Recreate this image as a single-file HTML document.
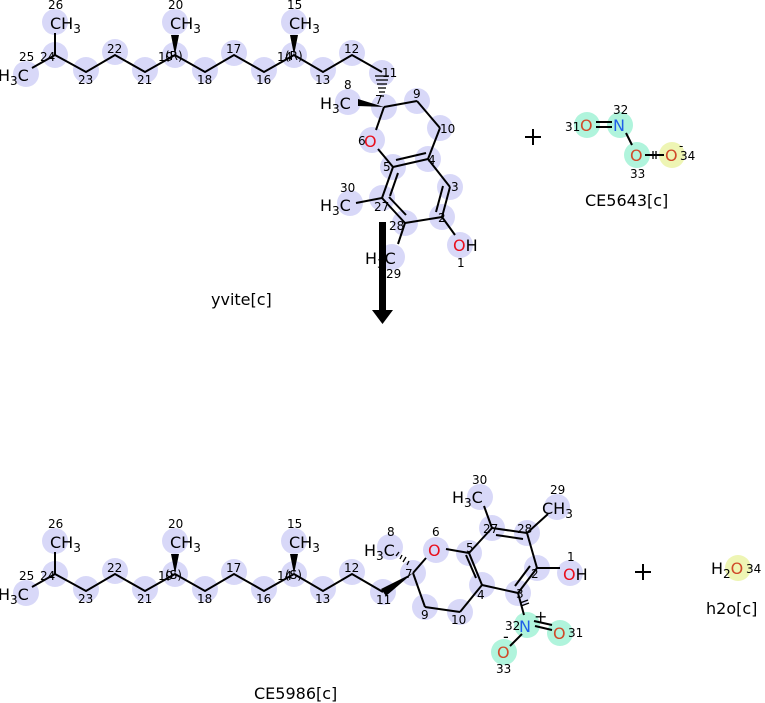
<!DOCTYPE html>
<html><head><meta charset="utf-8"><style>
html,body{margin:0;padding:0;background:#fff;width:765px;height:703px;overflow:hidden}
svg{display:block}
text{font-family:"DejaVu Sans","Liberation Sans",sans-serif}
.n{font-size:12px;fill:#000}
.a{font-size:16px;fill:#000}
.o{fill:#e8101e}
.on{fill:#d04a2a}
.nb{fill:#2060e8}
</style></head><body>
<svg width="765" height="703" viewBox="0 0 765 703" xmlns="http://www.w3.org/2000/svg">
<g fill="#d8d8f8">
<circle cx="55" cy="22" r="13"/><circle cx="55" cy="55" r="13"/><circle cx="26" cy="74" r="13"/>
<circle cx="86" cy="70" r="13"/><circle cx="115" cy="52" r="13"/><circle cx="145" cy="70" r="13"/>
<circle cx="175" cy="55" r="13"/><circle cx="175" cy="22" r="13"/><circle cx="205" cy="70" r="13"/>
<circle cx="234" cy="53" r="13"/><circle cx="264" cy="70" r="13"/><circle cx="294" cy="55" r="13"/>
<circle cx="294" cy="22" r="13"/><circle cx="323" cy="70" r="13"/><circle cx="352" cy="53" r="13"/>
<circle cx="382" cy="73" r="13"/><circle cx="384" cy="107" r="13"/><circle cx="348" cy="102" r="13"/>
<circle cx="417" cy="101" r="13"/><circle cx="440" cy="128" r="13"/><circle cx="372" cy="140" r="13"/>
<circle cx="393" cy="167" r="13"/><circle cx="428" cy="159" r="13"/><circle cx="450" cy="187" r="13"/>
<circle cx="442" cy="217" r="13"/><circle cx="460" cy="245" r="13"/><circle cx="405" cy="223" r="13"/>
<circle cx="382" cy="198" r="13"/><circle cx="350" cy="203" r="13"/><circle cx="392" cy="257" r="13"/>
<circle cx="55" cy="541" r="13"/><circle cx="55" cy="574" r="13"/><circle cx="26" cy="593" r="13"/>
<circle cx="86" cy="589" r="13"/><circle cx="115" cy="571" r="13"/><circle cx="145" cy="589" r="13"/>
<circle cx="175" cy="574" r="13"/><circle cx="175" cy="541" r="13"/><circle cx="205" cy="589" r="13"/>
<circle cx="234" cy="572" r="13"/><circle cx="264" cy="589" r="13"/><circle cx="294" cy="574" r="13"/>
<circle cx="294" cy="541" r="13"/><circle cx="323" cy="589" r="13"/><circle cx="352" cy="572" r="13"/>
<circle cx="383" cy="592" r="13"/><circle cx="413" cy="573" r="13"/><circle cx="390" cy="547" r="13"/>
<circle cx="436" cy="550" r="13"/><circle cx="469" cy="553" r="13"/><circle cx="492" cy="528" r="13"/>
<circle cx="480" cy="497" r="13"/><circle cx="527" cy="533" r="13"/><circle cx="557" cy="507" r="13"/>
<circle cx="537" cy="568" r="13"/><circle cx="570" cy="573" r="13"/><circle cx="518" cy="593" r="13"/>
<circle cx="482" cy="585" r="13"/><circle cx="425" cy="607" r="13"/><circle cx="460" cy="612" r="13"/>
</g>
<g fill="#b0f4dc">
<circle cx="587" cy="125" r="13"/><circle cx="620" cy="125" r="13"/><circle cx="637" cy="155" r="13"/>
<circle cx="527" cy="625" r="13"/><circle cx="560" cy="633" r="13"/><circle cx="504" cy="652" r="13"/>
</g>
<g fill="#eef5b4"><circle cx="672" cy="155" r="13"/><circle cx="738" cy="568" r="13"/></g>

<g stroke="#000" stroke-width="2" fill="none">
<polyline points="32,68 55,55 86,72 115,55 145,72 175,55 205,72 234,55 264,72 294,55 323,72 352,55 382,72"/>
<line x1="55" y1="55" x2="55" y2="33"/>
<line x1="384" y1="107" x2="417" y2="101"/><line x1="417" y1="101" x2="440" y2="128"/>
<line x1="440" y1="128" x2="428" y2="159"/><line x1="384" y1="107" x2="376" y2="130"/>
<line x1="378" y1="149" x2="393" y2="167"/><line x1="393" y1="167" x2="428" y2="159"/>
<line x1="396" y1="160" x2="426" y2="153"/>
<line x1="428" y1="159" x2="450" y2="187"/><line x1="450" y1="187" x2="442" y2="217"/>
<line x1="443" y1="186" x2="436" y2="212"/>
<line x1="442" y1="217" x2="405" y2="223"/><line x1="405" y1="223" x2="382" y2="198"/>
<line x1="406" y1="215" x2="389" y2="197"/>
<line x1="382" y1="198" x2="393" y2="167"/><line x1="398" y1="173" x2="390" y2="196"/>
<line x1="382" y1="198" x2="356" y2="203"/><line x1="405" y1="223" x2="398" y2="244"/>
<line x1="442" y1="217" x2="455" y2="235"/>
<polyline points="32,587 55,574 86,591 115,574 145,591 175,574 205,591 234,574 264,591 294,574 323,591 352,574 383,592"/>
<line x1="55" y1="574" x2="55" y2="552"/>
<line x1="413" y1="573" x2="426" y2="558"/><line x1="446" y1="549" x2="469" y2="553"/>
<line x1="413" y1="573" x2="425" y2="607"/><line x1="425" y1="607" x2="460" y2="612"/>
<line x1="460" y1="612" x2="482" y2="585"/><line x1="482" y1="585" x2="469" y2="553"/>
<line x1="476" y1="578" x2="466" y2="555"/>
<line x1="469" y1="553" x2="492" y2="528"/><line x1="492" y1="528" x2="527" y2="533"/>
<line x1="496" y1="535" x2="523" y2="539"/>
<line x1="527" y1="533" x2="537" y2="568"/><line x1="537" y1="568" x2="518" y2="593"/>
<line x1="530" y1="566" x2="515" y2="586"/>
<line x1="518" y1="593" x2="482" y2="585"/>
<line x1="492" y1="528" x2="484" y2="506"/><line x1="527" y1="533" x2="548" y2="514"/>
<line x1="537" y1="568" x2="560" y2="568"/>
<line x1="518" y1="593" x2="524" y2="615"/>
<line x1="535" y1="626" x2="552" y2="630"/><line x1="534" y1="621" x2="552" y2="625"/>
<line x1="522" y1="634" x2="510" y2="646"/>
<line x1="596" y1="122" x2="612" y2="122"/><line x1="596" y1="127" x2="612" y2="127"/>
<line x1="626" y1="133" x2="632" y2="145"/><line x1="645" y1="155" x2="664" y2="155"/>
<line x1="525" y1="137" x2="541" y2="137"/><line x1="533" y1="129" x2="533" y2="145"/>
<line x1="635" y1="572" x2="651" y2="572"/><line x1="643" y1="564" x2="643" y2="580"/>
</g>
<g stroke="#000" stroke-width="1.3">
<line x1="375" y1="76" x2="389" y2="76"/><line x1="376" y1="80" x2="388" y2="80"/><line x1="377" y1="84" x2="387" y2="84"/>
<line x1="378" y1="88" x2="386" y2="88"/><line x1="379" y1="92" x2="385" y2="92"/><line x1="380" y1="96" x2="384" y2="96"/>
<line x1="396" y1="556" x2="399" y2="552"/><line x1="400" y1="559" x2="402" y2="555"/><line x1="403" y1="562" x2="406" y2="557"/>
<line x1="407" y1="565" x2="409" y2="561"/><line x1="653" y1="151" x2="653" y2="159"/><line x1="656" y1="151" x2="656" y2="159"/>
<line x1="520" y1="603" x2="528" y2="600"/><line x1="521" y1="606" x2="529" y2="603"/>
</g>
<g fill="#000">
<polygon points="384,107 358,99 358,106"/>
<polygon points="175,55 171,35 179,35"/><polygon points="294,55 290,35 298,35"/>
<polygon points="175,574 171,554 179,554"/><polygon points="294,574 290,554 298,554"/>
<polygon points="413,573 381,589 386,596"/>
<rect x="379" y="222" width="7" height="90"/>
<polygon points="372,310 393,310 382.5,324"/>
</g>

<text class="a" x="50" y="29">CH<tspan font-size="12" dy="4">3</tspan></text>
<text class="a" x="-2" y="81">H<tspan font-size="12" dy="4">3</tspan><tspan dy="-4">C</tspan></text>
<text class="a" x="170" y="29">CH<tspan font-size="12" dy="4">3</tspan></text>
<text class="a" x="289" y="29">CH<tspan font-size="12" dy="4">3</tspan></text>
<text class="a" x="320" y="109">H<tspan font-size="12" dy="4">3</tspan><tspan dy="-4">C</tspan></text>
<text class="a o" x="364" y="147">O</text>
<text class="a" x="320" y="211">H<tspan font-size="12" dy="4">3</tspan><tspan dy="-4">C</tspan></text>
<text class="a" x="365" y="264">H<tspan font-size="12" dy="4">3</tspan><tspan dy="-4">C</tspan></text>
<text class="a" x="453" y="251"><tspan class="o">O</tspan>H</text>
<text class="n" x="48" y="9">26</text><text class="n" x="19" y="61">25</text><text class="n" x="40" y="61">24</text>
<text class="n" x="78" y="84">23</text><text class="n" x="107" y="53">22</text><text class="n" x="137" y="84">21</text>
<text class="n" x="158" y="61">19</text><text class="n" x="165" y="60" fill="#555">(R)</text><text class="n" x="168" y="9">20</text>
<text class="n" x="197" y="84">18</text><text class="n" x="226" y="53">17</text><text class="n" x="256" y="84">16</text>
<text class="n" x="277" y="61">14</text><text class="n" x="285" y="60" fill="#555">(R)</text><text class="n" x="287" y="9">15</text>
<text class="n" x="315" y="84">13</text><text class="n" x="344" y="53">12</text><text class="n" x="382" y="77">11</text>
<text class="n" x="344" y="89">8</text><text class="n" x="375" y="104">7</text><text class="n" x="413" y="98">9</text>
<text class="n" x="440" y="133">10</text><text class="n" x="358" y="145">6</text><text class="n" x="383" y="171">5</text>
<text class="n" x="428" y="164">4</text><text class="n" x="451" y="191">3</text><text class="n" x="438" y="222">2</text>
<text class="n" x="457" y="267">1</text><text class="n" x="340" y="192">30</text><text class="n" x="374" y="211">27</text>
<text class="n" x="389" y="230">28</text><text class="n" x="386" y="278">29</text>
<text x="211" y="305" font-size="16">yvite[c]</text>

<text class="a on" x="580" y="131">O</text><text class="a nb" x="613" y="131">N</text>
<text class="a on" x="630" y="161">O</text><text class="a on" x="665" y="161">O</text>
<text class="n" x="565" y="131">31</text><text class="n" x="613" y="114">32</text><text class="n" x="630" y="178">33</text>
<text class="n" x="680" y="160">34</text><text class="n" x="679" y="150">-</text>
<text x="585" y="206" font-size="16">CE5643[c]</text>

<text class="a" x="50" y="548">CH<tspan font-size="12" dy="4">3</tspan></text>
<text class="a" x="-2" y="600">H<tspan font-size="12" dy="4">3</tspan><tspan dy="-4">C</tspan></text>
<text class="a" x="170" y="548">CH<tspan font-size="12" dy="4">3</tspan></text>
<text class="a" x="289" y="548">CH<tspan font-size="12" dy="4">3</tspan></text>
<text class="a" x="364" y="556">H<tspan font-size="12" dy="4">3</tspan><tspan dy="-4">C</tspan></text>
<text class="a o" x="428" y="556">O</text>
<text class="a" x="452" y="503">H<tspan font-size="12" dy="4">3</tspan><tspan dy="-4">C</tspan></text>
<text class="a" x="542" y="514">CH<tspan font-size="12" dy="4">3</tspan></text>
<text class="a" x="563" y="580"><tspan class="o">O</tspan>H</text>
<text class="a nb" x="519" y="632">N</text><text class="a" x="534" y="622">+</text>
<text class="a on" x="553" y="639">O</text><text class="a on" x="497" y="658">O</text><text class="a" x="503" y="642" font-size="12">-</text>
<text class="n" x="48" y="528">26</text><text class="n" x="19" y="580">25</text><text class="n" x="40" y="580">24</text>
<text class="n" x="78" y="603">23</text><text class="n" x="107" y="572">22</text><text class="n" x="137" y="603">21</text>
<text class="n" x="158" y="580">19</text><text class="n" x="165" y="579" fill="#555">(S)</text><text class="n" x="168" y="528">20</text>
<text class="n" x="197" y="603">18</text><text class="n" x="226" y="572">17</text><text class="n" x="256" y="603">16</text>
<text class="n" x="277" y="580">14</text><text class="n" x="285" y="579" fill="#555">(S)</text><text class="n" x="287" y="528">15</text>
<text class="n" x="315" y="603">13</text><text class="n" x="344" y="572">12</text><text class="n" x="376" y="604">11</text>
<text class="n" x="387" y="536">8</text><text class="n" x="432" y="536">6</text><text class="n" x="405" y="578">7</text>
<text class="n" x="421" y="619">9</text><text class="n" x="451" y="624">10</text><text class="n" x="466" y="552">5</text>
<text class="n" x="477" y="599">4</text><text class="n" x="516" y="598">3</text><text class="n" x="531" y="578">2</text>
<text class="n" x="567" y="561">1</text><text class="n" x="472" y="484">30</text><text class="n" x="483" y="533">27</text>
<text class="n" x="517" y="533">28</text><text class="n" x="550" y="494">29</text>
<text class="n" x="505" y="630">32</text><text class="n" x="568" y="637">31</text><text class="n" x="496" y="673">33</text>
<text x="254" y="699" font-size="16">CE5986[c]</text>

<text class="a" x="711" y="574">H<tspan font-size="12" dy="4">2</tspan><tspan dy="-4" class="on">O</tspan></text>
<text class="n" x="746" y="573">34</text>
<text x="706" y="614" font-size="16">h2o[c]</text>
</svg>
</body></html>
